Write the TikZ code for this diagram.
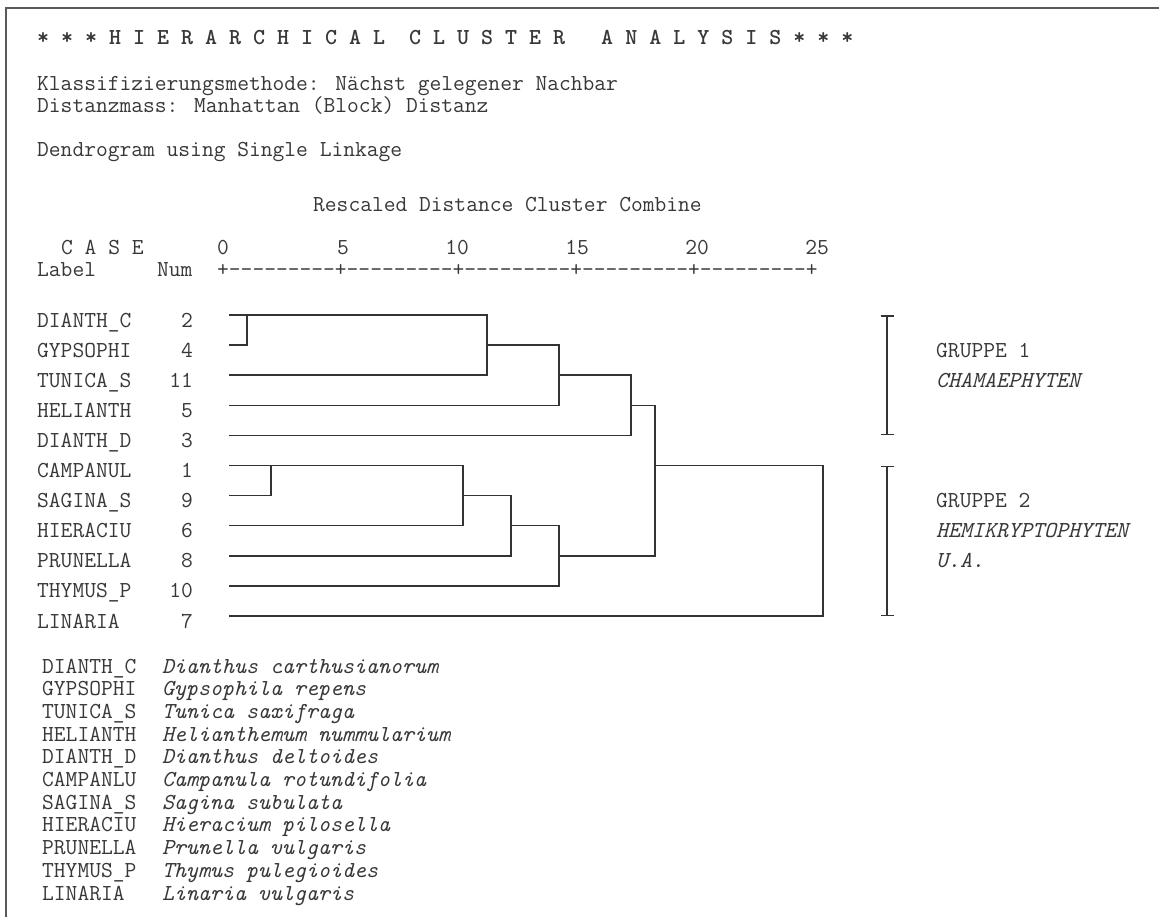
\documentclass[tikz,border=0pt]{standalone}
\usepackage{fontspec}
\usepackage{tikz}
\usetikzlibrary{arrows.meta,calc}

\newcommand{\dashes}{-{}-{}-{}-{}-{}-{}-{}-{}-}
\tikzset{
  mono/.style={font=\ttfamily\fontsize{22.86}{26}\selectfont,text=black!78,inner sep=0pt,anchor=base west},
  monor/.style={mono,anchor=base east},
  latin/.style={mono,font=\ttfamily\itshape\fontsize{22.86}{26}\selectfont},
  branch/.style={line width=1.5pt,draw=black!80},
  bracket/.style={line width=1.5pt,draw=black!80,{Bar[width=13pt]}-{Bar[width=13pt]}}
}

\begin{document}
\begin{tikzpicture}[x=1pt,y=-1pt]
\useasboundingbox (0,0) rectangle (1159,917);
\fill[white] (0,0) rectangle (1159,917);

% frame
\coordinate (fbot) at (6,917);
\coordinate (fcorner) at (6,8);
\coordinate (fright) at (1159,8);
\draw[line width=2.4pt,black!65] (fbot) -- (fcorner) -- (fright);

% head lines
\node[mono,font=\ttfamily\bfseries\fontsize{22.86}{26}\selectfont] (title) at (37,45) {*~*~*~H~I~E~R~A~R~C~H~I~C~A~L~~C~L~U~S~T~E~R~~~A~N~A~L~Y~S~I~S~*~*~*};
\node[mono] (method) at (37,91) {Klassifizierungsmethode: Nächst gelegener Nachbar};
\node[mono] (metric) at (37,113) {Distanzmass: Manhattan (Block) Distanz};
\node[mono] (linkage) at (37,157) {Dendrogram using Single Linkage};
\node[mono] (rescaled) at (313,212) {Rescaled Distance Cluster Combine};

% scale
\node[mono] (casehdr) at (61,255) {C~A~S~E};
\node[monor] (d0) at (229,255) {0};
\node[monor] (d5) at (349,255) {5};
\node[monor] (d10) at (469,255) {10};
\node[monor] (d15) at (589,255) {15};
\node[monor] (d20) at (709,255) {20};
\node[monor] (d25) at (829,255) {25};
\node[mono] (labelhdr) at (37,277) {Label};
\node[mono] (numhdr) at (157,277) {Num};
\node[mono] (axis) at (217,277) {+\dashes+\dashes+\dashes+\dashes+\dashes+};

% cases
\node[mono] (l-dc) at (37,327) {DIANTH\_C};   \node[monor] (n-dc) at (193,327) {2};
\node[mono] (l-gy) at (37,357.1) {GYPSOPHI};  \node[monor] (n-gy) at (193,357.1) {4};
\node[mono] (l-tu) at (37,387.2) {TUNICA\_S}; \node[monor] (n-tu) at (193,387.2) {11};
\node[mono] (l-he) at (37,417.3) {HELIANTH};  \node[monor] (n-he) at (193,417.3) {5};
\node[mono] (l-dd) at (37,447.4) {DIANTH\_D}; \node[monor] (n-dd) at (193,447.4) {3};
\node[mono] (l-ca) at (37,477.5) {CAMPANUL};  \node[monor] (n-ca) at (193,477.5) {1};
\node[mono] (l-sa) at (37,507.6) {SAGINA\_S}; \node[monor] (n-sa) at (193,507.6) {9};
\node[mono] (l-hi) at (37,537.7) {HIERACIU};  \node[monor] (n-hi) at (193,537.7) {6};
\node[mono] (l-pr) at (37,567.8) {PRUNELLA};  \node[monor] (n-pr) at (193,567.8) {8};
\node[mono] (l-th) at (37,597.9) {THYMUS\_P}; \node[monor] (n-th) at (193,597.9) {10};
\node[mono] (l-li) at (37,628) {LINARIA};     \node[monor] (n-li) at (193,628) {7};

\coordinate (dc) at (229,315);
\coordinate (gy) at (229,345.1);
\coordinate (tu) at (229,375.2);
\coordinate (he) at (229,405.3);
\coordinate (dd) at (229,435.4);
\coordinate (ca) at (229,465.5);
\coordinate (sa) at (229,495.6);
\coordinate (hi) at (229,525.7);
\coordinate (pr) at (229,555.8);
\coordinate (th) at (229,585.9);
\coordinate (li) at (229,616);

% merges
\coordinate (m1) at (247,315);
\coordinate (m2) at (487,345.1);
\coordinate (m3) at (559,375.2);
\coordinate (m4) at (631,405.3);
\coordinate (m5) at (271,465.5);
\coordinate (m6) at (463,495.6);
\coordinate (m7) at (511,525.7);
\coordinate (m8) at (559,555.8);
\coordinate (m9) at (655,465.5);
\coordinate (m10) at (823,465.5);

\draw[branch] (dc) -- (m1) |- (gy);
\draw[branch] (m1) -| (m2 |- tu) -- (tu);
\draw[branch] (m2) -| (m3 |- he) -- (he);
\draw[branch] (m3) -| (m4 |- dd) -- (dd);
\draw[branch] (ca) -- (m5) |- (sa);
\draw[branch] (m5) -| (m6 |- hi) -- (hi);
\draw[branch] (m6) -| (m7 |- pr) -- (pr);
\draw[branch] (m7) -| (m8 |- th) -- (th);
\draw[branch] (m4) -| (m9 |- m8) -- (m8);
\draw[branch] (m9) -| (m10 |- li) -- (li);

% groups
\coordinate (g1top) at (887,315);
\coordinate (g1bot) at (887,435.4);
\coordinate (g2top) at (887,465.5);
\coordinate (g2bot) at (887,616);
\draw[bracket] (g1top) -- (g1bot);
\draw[bracket] (g2top) -- (g2bot);
\node[mono] (grp1) at (936,357.1) {GRUPPE 1};
\node[latin] (chamae) at (936,387.2) {CHAMAEPHYTEN};
\node[mono] (grp2) at (936,507.6) {GRUPPE 2};
\node[latin] (hemi) at (936,537.7) {HEMIKRYPTOPHYTEN};
\node[latin] (ua) at (936,567.8) {U.A.};

% legend
\node[mono] (k-dc) at (42,673) {DIANTH\_C};    \node[latin] (sp-dc) at (162,673) {Dianthus carthusianorum};
\node[mono] (k-gy) at (42,695.7) {GYPSOPHI};   \node[latin] (sp-gy) at (162,695.7) {Gypsophila repens};
\node[mono] (k-tu) at (42,718.4) {TUNICA\_S};  \node[latin] (sp-tu) at (162,718.4) {Tunica saxifraga};
\node[mono] (k-he) at (42,741.1) {HELIANTH};   \node[latin] (sp-he) at (162,741.1) {Helianthemum nummularium};
\node[mono] (k-dd) at (42,763.8) {DIANTH\_D};  \node[latin] (sp-dd) at (162,763.8) {Dianthus deltoides};
\node[mono] (k-ca) at (42,786.5) {CAMPANLU};   \node[latin] (sp-ca) at (162,786.5) {Campanula rotundifolia};
\node[mono] (k-sa) at (42,809.2) {SAGINA\_S};  \node[latin] (sp-sa) at (162,809.2) {Sagina subulata};
\node[mono] (k-hi) at (42,831.9) {HIERACIU};   \node[latin] (sp-hi) at (162,831.9) {Hieracium pilosella};
\node[mono] (k-pr) at (42,854.6) {PRUNELLA};   \node[latin] (sp-pr) at (162,854.6) {Prunella vulgaris};
\node[mono] (k-th) at (42,877.3) {THYMUS\_P};  \node[latin] (sp-th) at (162,877.3) {Thymus pulegioides};
\node[mono] (k-li) at (42,900) {LINARIA};      \node[latin] (sp-li) at (162,900) {Linaria vulgaris};
\end{tikzpicture}
\end{document}
